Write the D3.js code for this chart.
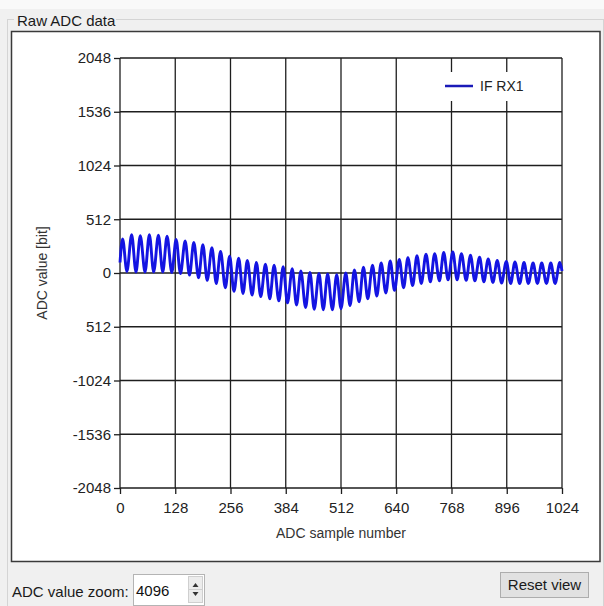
<!DOCTYPE html>
<html>
<head>
<meta charset="utf-8">
<script src="https://cdn.jsdelivr.net/npm/d3@7"></script>
<style>
  html, body { margin: 0; padding: 0; background: #f0f0f0; }
  svg { display: block; font-family: "Liberation Sans", Arial, sans-serif; }
</style>
</head>
<body>
<svg id="chart" width="604" height="606"></svg>
<script>
// ---- data ----
const sampleIndex = [0, 6, 16, 27, 37, 47, 58, 68, 78, 89, 99, 109, 120, 130, 140, 151, 161, 171, 182, 192,
  202, 213, 223, 233, 244, 254, 264, 275, 285, 295, 306, 316, 326, 337, 347, 357, 368, 378, 388, 399,
  409, 419, 430, 440, 450, 461, 471, 481, 492, 502, 512, 523, 533, 543, 554, 564, 574, 585, 595, 605,
  616, 626, 636, 647, 657, 667, 678, 688, 698, 709, 719, 729, 740, 750, 760, 771, 781, 791, 802, 812,
  822, 833, 843, 853, 864, 874, 884, 895, 905, 915, 926, 936, 946, 957, 967, 977, 988, 998, 1008, 1019, 1024];
const adcValue = [100, 325, 15, 365, 10, 355, 10, 365, 10, 360, 10, 350, 5, 320, -5, 305, -20, 290, -45, 270,
  -70, 240, -100, 205, -140, 160, -175, 140, -195, 120, -210, 100, -225, 85, -245, 75, -265, 60, -285, 40,
  -305, 20, -330, 5, -345, -5, -350, -10, -350, -15, -340, 0, -310, 30, -275, 55, -245, 75, -220, 95,
  -190, 115, -165, 130, -140, 145, -120, 165, -100, 180, -85, 185, -75, 195, -65, 200, -65, 185, -70, 170,
  -75, 150, -85, 135, -90, 120, -95, 110, -100, 105, -100, 100, -100, 95, -100, 95, -100, 95, -100, 100, 20];
const seriesName = "IF RX1";
const xTicks = [0, 128, 256, 384, 512, 640, 768, 896, 1024];
const xTickLabels = ["0", "128", "256", "384", "512", "640", "768", "896", "1024"];
const yTicks = [2048, 1536, 1024, 512, 0, -512, -1024, -1536, -2048];
const yTickLabels = ["2048", "1536", "1024", "512", "0", "512", "-1024", "-1536", "-2048"];

// ---- layout ----
const svg = d3.select("#chart");
const L = 120, R = 562, T = 58, B = 488;
const x = d3.scaleLinear().domain([0, 1024]).range([L, R]);
const y = d3.scaleLinear().domain([-2048, 2048]).range([B, T]);

// window chrome
svg.append("rect").attr("x", 0).attr("y", 0).attr("width", 604).attr("height", 606).attr("fill", "#f0f0f0");
svg.append("rect").attr("x", 0).attr("y", 0).attr("width", 604).attr("height", 9).attr("fill", "#f9f9f9");
// group box
svg.append("rect").attr("x", 7.5).attr("y", 19.5).attr("width", 596).attr("height", 640)
  .attr("fill", "none").attr("stroke", "#d4d4d4").attr("stroke-width", 1);
svg.append("rect").attr("x", 14).attr("y", 12).attr("width", 102).attr("height", 16).attr("fill", "#f0f0f0");
svg.append("text").attr("x", 17).attr("y", 25.5).attr("font-size", 15).attr("fill", "#1a1a1a").text("Raw ADC data");

// white panel
svg.append("rect").attr("x", 11.5).attr("y", 31.5).attr("width", 588.5).attr("height", 530)
  .attr("fill", "#ffffff").attr("stroke", "#3a3a3a").attr("stroke-width", 1.5);

// grid
const grid = svg.append("g").attr("stroke", "#1e1e1e").attr("stroke-width", 1.3);
grid.selectAll("line.v").data(xTicks).join("line")
  .attr("x1", d => x(d)).attr("x2", d => x(d)).attr("y1", T).attr("y2", B);
grid.selectAll("line.h").data(yTicks).join("line")
  .attr("y1", d => y(d)).attr("y2", d => y(d)).attr("x1", L).attr("x2", R);

// axes
const xAxis = svg.append("g").attr("transform", `translate(0,${B})`)
  .call(d3.axisBottom(x).tickValues(xTicks).tickFormat((d, i) => xTickLabels[i]).tickSizeOuter(0).tickSize(6).tickPadding(8));
const yAxis = svg.append("g").attr("transform", `translate(${L},0)`)
  .call(d3.axisLeft(y).tickValues(yTicks).tickFormat((d, i) => yTickLabels[i]).tickSizeOuter(0).tickSize(6).tickPadding(3));
[xAxis, yAxis].forEach(a => {
  a.select(".domain").remove();
  a.selectAll(".tick line").attr("stroke", "#1e1e1e").attr("stroke-width", 1.3);
  a.selectAll(".tick text").attr("font-size", 15).attr("fill", "#222").attr("font-family", "Liberation Sans, Arial, sans-serif");
});

// axis titles
svg.append("text").attr("x", (L + R) / 2).attr("y", 538).attr("text-anchor", "middle")
  .attr("font-size", 14).attr("fill", "#333").text("ADC sample number");
svg.append("text").attr("transform", `translate(47,${(T + B) / 2}) rotate(-90)`).attr("text-anchor", "middle")
  .attr("font-size", 14).attr("fill", "#333").text("ADC value [bit]");

// legend
svg.append("rect").attr("x", 438).attr("y", 72).attr("width", 94).attr("height", 29).attr("fill", "#ffffff");
svg.append("line").attr("x1", 445).attr("x2", 473).attr("y1", 86).attr("y2", 86)
  .attr("stroke", "#1a1ab8").attr("stroke-width", 2.5);
svg.append("text").attr("x", 480).attr("y", 91).attr("font-size", 14).attr("fill", "#222").text(seriesName);

// series
const pts = sampleIndex.map((n, i) => [n, adcValue[i]]);
const line = d3.line().x(d => x(d[0])).y(d => y(d[1])).curve(d3.curveMonotoneX);
svg.append("path").datum(pts).attr("d", line).attr("fill", "none")
  .attr("stroke", "#1414e2").attr("stroke-width", 2.9).attr("stroke-linejoin", "round");

// bottom controls
svg.append("text").attr("x", 12).attr("y", 597).attr("font-size", 15).attr("fill", "#1a1a1a").text("ADC value zoom:");
svg.append("rect").attr("x", 133.5).attr("y", 574.5).attr("width", 71).attr("height", 31)
  .attr("fill", "#ffffff").attr("stroke", "#b4b4b4");
svg.append("text").attr("x", 136).attr("y", 596).attr("font-size", 15).attr("fill", "#111").text("4096");
svg.append("rect").attr("x", 188.5).attr("y", 576.5).attr("width", 14).attr("height", 26)
  .attr("fill", "#ececec").attr("stroke", "#cfcfcf");
svg.append("line").attr("x1", 189).attr("x2", 202).attr("y1", 589.5).attr("y2", 589.5).attr("stroke", "#cfcfcf");
svg.append("path").attr("d", "M192.5,587 L195.5,583 L198.5,587 Z").attr("fill", "#333");
svg.append("path").attr("d", "M192.5,592 L195.5,596 L198.5,592 Z").attr("fill", "#333");
svg.append("rect").attr("x", 500.5).attr("y", 572.5).attr("width", 88).attr("height", 25)
  .attr("fill", "#e1e1e1").attr("stroke", "#adadad");
svg.append("text").attr("x", 544.5).attr("y", 590).attr("text-anchor", "middle").attr("font-size", 15)
  .attr("fill", "#1a1a1a").text("Reset view");
</script>
</body>
</html>
